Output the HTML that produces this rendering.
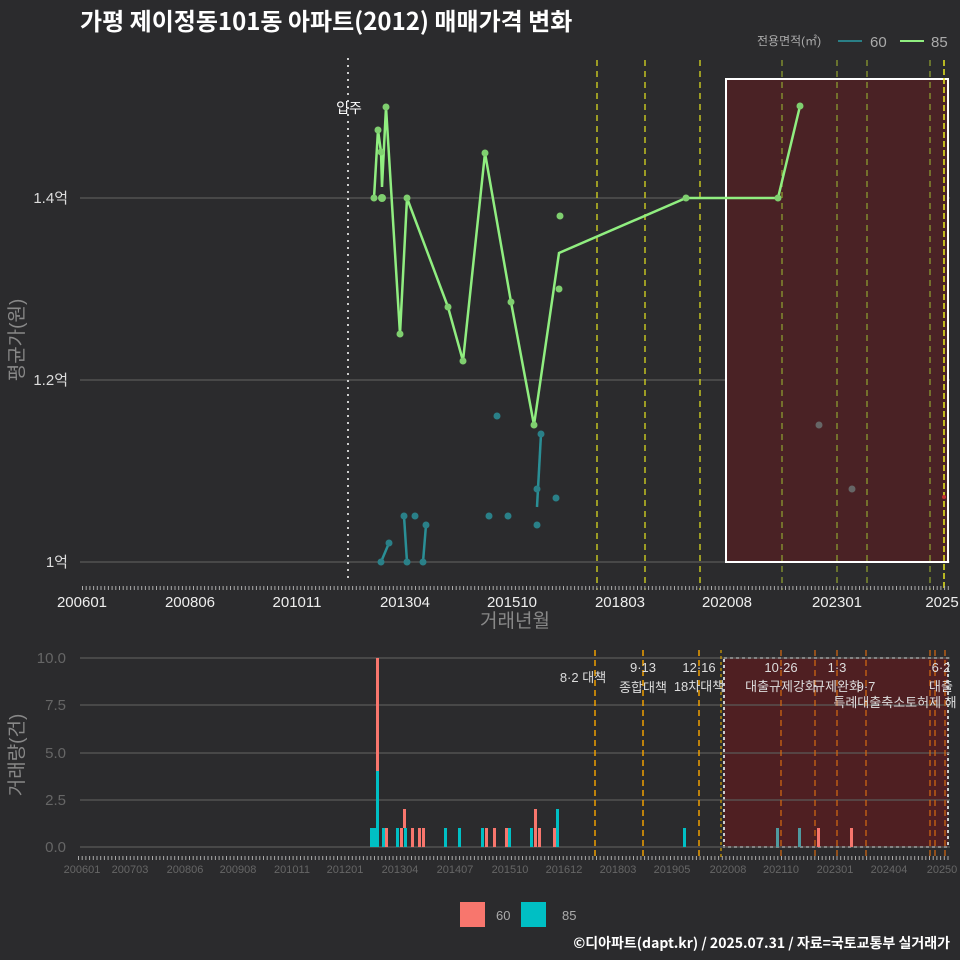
<!DOCTYPE html>
<html><head><meta charset="utf-8"><style>
body{margin:0;background:#2b2b2d;}
svg{display:block;font-family:"Liberation Sans","Noto Sans CJK KR",sans-serif;}
</style></head><body>
<svg width="960" height="960" viewBox="0 0 960 960">
<rect width="960" height="960" fill="#2b2b2d"/>
<text x="80" y="30" font-size="24" font-weight="bold" fill="#fff" font-family="'Noto Sans CJK KR',sans-serif">가평 제이정동101동 아파트(2012) 매매가격 변화</text>
<text x="757" y="45" font-size="12" fill="#aaa">전용면적(㎡)</text>
<line x1="838" y1="41" x2="862" y2="41" stroke="#2a7f86" stroke-width="2"/>
<text x="870" y="47" font-size="15" fill="#aaa">60</text>
<line x1="900" y1="41" x2="924" y2="41" stroke="#90ee80" stroke-width="2"/>
<text x="931" y="47" font-size="15" fill="#aaa">85</text>
<g stroke="#5a5a5a" stroke-width="1.2">
<line x1="80" y1="198" x2="950" y2="198"/><line x1="80" y1="380" x2="950" y2="380"/><line x1="80" y1="562" x2="950" y2="562"/>
</g>
<g font-size="15" fill="#ddd" text-anchor="end">
<text x="68" y="203">1.4억</text><text x="68" y="385">1.2억</text><text x="68" y="567">1억</text>
</g>
<text transform="translate(23,340) rotate(-90)" font-size="19" fill="#888" text-anchor="middle">평균가(원)</text>
<rect x="726" y="79" width="222" height="483" fill="#4a2225" stroke="#fff" stroke-width="2"/>
<line x1="348" y1="58" x2="348" y2="580" stroke="#ccc" stroke-width="2" stroke-dasharray="2,5"/>
<text x="349" y="113" font-size="14" fill="#fff" text-anchor="middle">입주</text>
<g stroke="#d8d820" stroke-width="1.3" stroke-dasharray="6,5">
<line x1="597" y1="60" x2="597" y2="590"/><line x1="645" y1="60" x2="645" y2="590"/><line x1="700" y1="60" x2="700" y2="590"/>
</g>
<g stroke="#8a9a30" stroke-width="1.3" stroke-dasharray="6,5">
<line x1="782" y1="60" x2="782" y2="590"/><line x1="837" y1="60" x2="837" y2="590"/><line x1="867" y1="60" x2="867" y2="590"/><line x1="930" y1="60" x2="930" y2="590"/>
</g>
<line x1="944" y1="60" x2="944" y2="590" stroke="#e8e820" stroke-width="1.5" stroke-dasharray="6,3"/>
<polyline fill="none" stroke="#90ee80" stroke-width="2.5" points="374,198 378,130 381,152 382,187 386,107 400,334 407,198 448,307 463,361 485,153 511,302 534,425 559,253 686,198 778,198 800,106"/>
<g fill="#7fcf6f">
<circle cx="374" cy="198" r="3.5"/><circle cx="378" cy="130" r="3.5"/><circle cx="381" cy="152" r="3.5"/><circle cx="382" cy="198" r="4"/><circle cx="386" cy="107" r="3.5"/><circle cx="400" cy="334" r="3.5"/><circle cx="407" cy="198" r="3.5"/><circle cx="448" cy="307" r="3.5"/><circle cx="463" cy="361" r="3.5"/><circle cx="485" cy="153" r="3.5"/><circle cx="511" cy="302" r="3.5"/><circle cx="534" cy="425" r="3.5"/><circle cx="560" cy="216" r="3.5"/><circle cx="559" cy="289" r="3.5"/><circle cx="686" cy="198" r="3.5"/><circle cx="778" cy="198" r="3.5"/><circle cx="800" cy="106" r="3.5"/>
</g>
<g stroke="#2a8f96" stroke-width="2.5" fill="none">
<polyline points="381,562 389,543"/><polyline points="404,516 407,562"/><polyline points="423,562 426,525"/><polyline points="537,507 541,434"/>
</g>
<g fill="#2a8088">
<circle cx="381" cy="562" r="3.5"/><circle cx="389" cy="543" r="3.5"/><circle cx="404" cy="516" r="3.5"/><circle cx="407" cy="562" r="3.5"/><circle cx="415" cy="516" r="3.5"/><circle cx="423" cy="562" r="3.5"/><circle cx="426" cy="525" r="3.5"/><circle cx="489" cy="516" r="3.5"/><circle cx="497" cy="416" r="3.5"/><circle cx="508" cy="516" r="3.5"/><circle cx="537" cy="525" r="3.5"/><circle cx="537" cy="489" r="3.5"/><circle cx="541" cy="434" r="3.5"/><circle cx="556" cy="498" r="3.5"/>
</g>
<circle cx="819" cy="425" r="3.5" fill="#666"/><circle cx="852" cy="489" r="3.5" fill="#666"/>
<circle cx="944" cy="497" r="2" fill="#c03030"/>
<line x1="82" y1="588" x2="950" y2="588" stroke="#aaa" stroke-width="4" stroke-dasharray="1,2.7"/>
<g font-size="15" fill="#eee" text-anchor="middle">
<text x="82" y="607">200601</text><text x="190" y="607">200806</text><text x="297" y="607">201011</text><text x="405" y="607">201304</text><text x="512" y="607">201510</text><text x="620" y="607">201803</text><text x="727" y="607">202008</text><text x="837" y="607">202301</text><text x="942" y="607">2025</text>
</g>
<text x="515" y="627" font-size="19" fill="#888" text-anchor="middle">거래년월</text>
<rect x="724" y="658" width="224" height="189" fill="#4f1f22" stroke="#ccc" stroke-width="2" stroke-dasharray="3,3"/>
<g stroke="#5a5a5a" stroke-width="1.2">
<line x1="80" y1="658" x2="950" y2="658"/><line x1="80" y1="705" x2="950" y2="705"/><line x1="80" y1="753" x2="950" y2="753"/><line x1="80" y1="800" x2="950" y2="800"/><line x1="80" y1="847" x2="950" y2="847"/>
</g>
<g font-size="15" fill="#666" text-anchor="end">
<text x="66" y="663">10.0</text><text x="66" y="710">7.5</text><text x="66" y="758">5.0</text><text x="66" y="805">2.5</text><text x="66" y="852">0.0</text>
</g>
<text transform="translate(23,755) rotate(-90)" font-size="19" fill="#888" text-anchor="middle">거래량(건)</text>
<g stroke="#f0a000" stroke-width="1.5" stroke-dasharray="6,4">
<line x1="595" y1="650" x2="595" y2="858"/><line x1="643" y1="650" x2="643" y2="858"/><line x1="699" y1="650" x2="699" y2="858"/>
</g>
<line x1="721" y1="650" x2="721" y2="858" stroke="#d8a000" stroke-width="1.2" stroke-dasharray="3,3"/>
<g stroke="#d86a10" stroke-width="1.2" stroke-dasharray="6,4">
<line x1="781" y1="650" x2="781" y2="858"/><line x1="815" y1="650" x2="815" y2="858"/><line x1="837" y1="650" x2="837" y2="858"/><line x1="866" y1="650" x2="866" y2="858"/><line x1="930" y1="650" x2="930" y2="858"/><line x1="935" y1="650" x2="935" y2="858"/><line x1="945" y1="650" x2="945" y2="858"/>
</g>
<g font-size="13" fill="#ddd" text-anchor="middle">
<text x="583" y="682">8·2 대책</text><text x="643" y="672">9·13</text><text x="643" y="692">종합대책</text>
<text x="699" y="672">12·16</text><text x="699" y="691">18차대책</text>
<text x="781" y="672">10·26</text><text x="781" y="691">대출규제강화</text><text x="837" y="672">1·3</text><text x="837" y="691">규제완화</text>
<text x="866" y="691">9·7</text><text x="895" y="707">특례대출축소토허제 해</text><text x="941" y="672">6·2</text><text x="941" y="691">대출</text>
</g>
<g fill="#00bfc4">
<rect x="370" y="828" width="8" height="19"/><rect x="376" y="771" width="3" height="76"/><rect x="382" y="828" width="3" height="19"/><rect x="396" y="828" width="3" height="19"/><rect x="404" y="828" width="3" height="19"/><rect x="444" y="828" width="3" height="19"/><rect x="458" y="828" width="3" height="19"/><rect x="481" y="828" width="3" height="19"/><rect x="508" y="828" width="3" height="19"/><rect x="530" y="828" width="3" height="19"/><rect x="556" y="809" width="3" height="38"/><rect x="683" y="828" width="3" height="19"/>
</g>
<g fill="#4f9aa0"><rect x="776" y="828" width="3" height="19"/><rect x="798" y="828" width="3" height="19"/></g>
<g fill="#f8766d">
<rect x="376" y="658" width="3" height="113"/><rect x="385" y="828" width="3" height="19"/><rect x="400" y="828" width="3" height="19"/><rect x="403" y="809" width="3" height="19"/><rect x="411" y="828" width="3" height="19"/><rect x="418" y="828" width="3" height="19"/><rect x="422" y="828" width="3" height="19"/><rect x="485" y="828" width="3" height="19"/><rect x="493" y="828" width="3" height="19"/><rect x="505" y="828" width="3" height="19"/><rect x="534" y="809" width="3" height="38"/><rect x="538" y="828" width="3" height="19"/><rect x="553" y="828" width="3" height="19"/><rect x="817" y="828" width="3" height="19"/><rect x="850" y="828" width="3" height="19"/>
</g>
<line x1="78" y1="858" x2="950" y2="858" stroke="#aaa" stroke-width="4" stroke-dasharray="1,2.7"/>
<g font-size="11" fill="#666" text-anchor="middle">
<text x="82" y="873">200601</text><text x="130" y="873">200703</text><text x="185" y="873">200806</text><text x="238" y="873">200908</text><text x="292" y="873">201011</text><text x="345" y="873">201201</text><text x="400" y="873">201304</text><text x="455" y="873">201407</text><text x="510" y="873">201510</text><text x="564" y="873">201612</text><text x="618" y="873">201803</text><text x="672" y="873">201905</text><text x="728" y="873">202008</text><text x="781" y="873">202110</text><text x="835" y="873">202301</text><text x="889" y="873">202404</text><text x="942" y="873">20250</text>
</g>
<rect x="460" y="902" width="25" height="25" fill="#f8766d"/><text x="496" y="920" font-size="13" fill="#aaa">60</text>
<rect x="521" y="902" width="25" height="25" fill="#00bfc4"/><text x="562" y="920" font-size="13" fill="#aaa">85</text>
<text x="950" y="948" font-size="14" font-weight="bold" fill="#fff" text-anchor="end" font-family="'Noto Sans CJK KR',sans-serif">©디아파트(dapt.kr) / 2025.07.31 / 자료=국토교통부 실거래가</text>
</svg>
</body></html>
